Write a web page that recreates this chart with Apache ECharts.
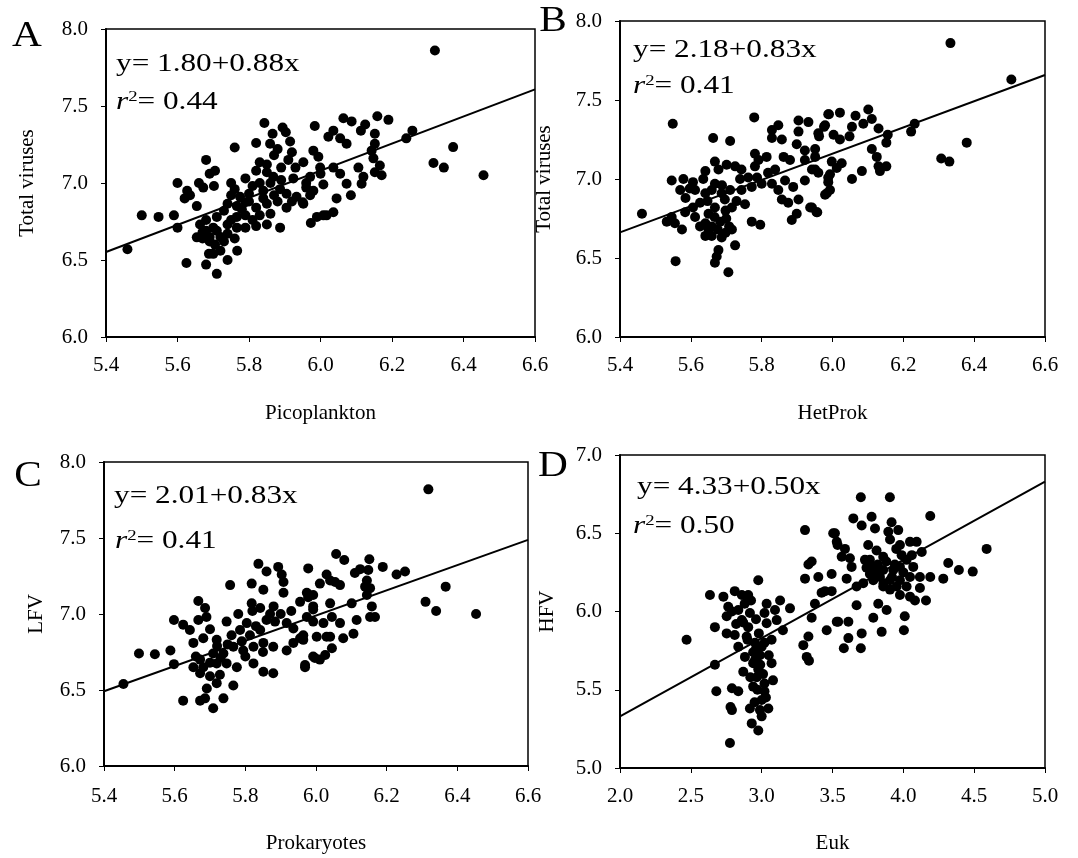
<!DOCTYPE html>
<html>
<head>
<meta charset="utf-8">
<script src="https://cdn.jsdelivr.net/npm/echarts@6/dist/echarts.min.js"></script>
<style>
  html, body { margin: 0; padding: 0; background: #fff; }
  #chart { width: 1078px; height: 858px; }
</style>
</head>
<body>
<div id="chart"></div>
<script>
// Panel captions, axis titles and regression summaries
const panelLetters = ['A', 'B', 'C', 'D'];
const xNames = ['Picoplankton', 'HetProk', 'Prokaryotes', 'Euk'];
const yNames = ['Total viruses', 'Total viruses', 'LFV', 'HFV'];
const intercepts = [1.80, 2.18, 2.01, 4.33];
const slopes = [0.88, 0.83, 0.83, 0.50];
const rSquared = ['0.44', '0.41', '0.41', '0.50'];

// Axis extents: [min, max, interval]
const xRanges = [[5.4, 6.6, 0.2], [5.4, 6.6, 0.2], [5.4, 6.6, 0.2], [2.0, 5.0, 0.5]];
const yRanges = [[6.0, 8.0, 0.5], [6.0, 8.0, 0.5], [6.0, 8.0, 0.5], [5.0, 7.0, 0.5]];

// A: Picoplankton vs total viruses (log abundances)
const pointsA = [
  [5.46,6.57],[5.50,6.79],[5.547,6.78],[5.59,6.79],[5.60,6.71],[5.60,7.00],[5.627,6.95],[5.635,6.92],
  [5.654,6.85],[5.625,6.48],[5.68,6.47],[5.688,6.54],[5.71,6.41],[5.74,6.50],[5.767,6.56],[5.68,7.15],
  [5.705,7.08],[5.69,7.06],[5.66,7.00],[5.672,6.97],[5.702,6.98],[5.75,7.00],[5.76,7.23],[5.843,7.39],
  [5.866,7.32],[5.82,7.26],[5.859,7.255],[5.894,7.36],[5.903,7.33],[5.915,7.27],[5.91,7.15],[5.83,7.135],
  [5.82,7.08],[5.85,7.07],[5.868,7.04],[5.89,7.02],[5.924,7.03],[5.79,7.03],[5.81,6.98],[5.75,6.92],
  [5.775,6.91],[5.80,6.93],[5.84,6.95],[5.887,6.96],[5.905,6.93],[5.96,7.00],[5.98,6.95],[5.74,6.865],
  [5.766,6.85],[5.79,6.875],[5.82,6.84],[5.85,6.865],[5.905,6.84],[5.95,6.875],[5.663,6.73],[5.68,6.69],
  [5.654,6.647],[5.67,6.64],[5.70,6.71],[5.71,6.78],[5.74,6.73],[5.766,6.71],[5.79,6.71],[5.82,6.72],
  [5.85,6.73],[5.887,6.71],[5.766,6.78],[5.79,6.79],[5.705,6.60],[5.72,6.56],[5.70,6.54],[5.69,6.65],
  [5.72,6.65],[5.74,6.67],[6.017,6.79],[6.0,7.06],[5.933,6.91],
  [5.67,6.68],[5.69,6.62],[5.73,6.62],[5.76,6.64],[5.68,6.76],[5.73,6.82],[5.78,6.83],[5.83,6.79],
  [5.86,6.80],[5.88,6.88],[5.92,6.88],[5.84,6.90],[5.80,6.88],[5.76,6.96],[5.86,7.00],[5.89,7.10],
  [5.87,7.18],[5.92,7.20],[5.88,7.22],[5.85,7.12],[5.62,6.90],[5.71,6.69],[5.75,6.76],[5.81,6.76],
  [5.87,6.92],[5.83,7.00],[5.93,7.10],
  [6.32,7.86],[6.371,7.233],[6.316,7.13],[6.345,7.10],[6.456,7.05],[6.257,7.34],[6.24,7.29],[6.159,7.433],
  [6.19,7.41],[6.125,7.38],[6.113,7.34],[6.152,7.32],[6.152,7.255],[6.143,7.21],[6.148,7.16],[6.166,7.114],
  [6.171,7.05],[6.152,7.07],[6.12,7.04],[6.115,6.995],[6.106,7.10],[6.064,7.42],[6.087,7.40],[5.984,7.37],
  [6.036,7.34],[6.022,7.30],[6.055,7.29],[6.073,7.255],[5.98,7.21],[5.994,7.17],[5.952,7.135],[5.999,7.10],
  [6.036,7.10],[6.055,7.06],[6.073,6.995],[6.008,6.99],[5.971,7.04],[5.96,6.97],[5.971,6.92],[5.952,6.865],
  [6.045,6.90],[6.085,6.92],[6.036,6.81],[6.008,6.79],[5.99,6.78],[5.973,6.74]
];

// B: heterotrophic prokaryotes vs total viruses
const pointsB = [
  [5.462,6.78],[5.549,7.35],[5.557,6.48],[5.546,6.99],[5.579,7.00],[5.570,6.93],[5.597,6.94],[5.612,6.93],
  [5.546,6.76],[5.532,6.73],[5.555,6.72],[5.575,6.68],[5.584,6.79],[5.612,6.76],[5.626,6.85],[5.641,6.91],
  [5.635,7.00],[5.641,7.05],[5.663,7.26],[5.711,7.24],[5.779,7.39],[5.668,7.11],[5.678,7.06],[5.701,7.09],
  [5.725,7.08],[5.743,7.06],[5.668,6.97],[5.659,6.93],[5.687,6.91],[5.711,6.93],[5.696,6.87],[5.716,6.82],
  [5.668,6.82],[5.650,6.78],[5.641,6.72],[5.659,6.70],[5.683,6.73],[5.641,6.64],[5.659,6.64],[5.687,6.63],
  [5.716,6.68],[5.725,6.58],[5.678,6.55],[5.673,6.51],[5.668,6.47],[5.706,6.41],[5.753,6.84],[5.772,6.73],
  [5.796,6.71],[5.743,6.93],[5.772,6.95],[5.787,7.01],[5.800,6.97],[5.762,7.01],[5.781,7.16],[5.791,7.12],
  [5.814,7.14],[5.781,7.08],[5.818,7.04],[5.838,7.06],[5.829,6.97],[5.847,6.93],[5.857,6.87],[5.875,6.85],
  [5.866,6.99],[5.889,6.95],[5.904,6.87],[5.899,6.78],[5.885,6.74],[5.937,6.82],[5.955,6.79],[5.979,6.90],
  [5.904,7.37],[5.932,7.36],[5.988,7.41],[5.829,7.31],[5.847,7.34],[5.829,7.26],[5.857,7.25],[5.904,7.30],
  [5.960,7.29],[5.979,7.34],[5.899,7.22],[5.922,7.18],[5.951,7.14],[5.922,7.12],[5.942,7.06],[5.880,7.12],
  [5.862,7.14],[5.988,7.01],[5.998,7.11],[5.922,6.99],[5.960,7.04],
  [5.606,6.82],[5.626,6.70],[5.647,6.86],[5.667,6.76],[5.698,6.80],[5.708,6.70],[5.729,6.86],[5.688,6.96],
  [5.739,7.00],[5.606,6.98],[5.585,6.88],[5.698,6.66],[5.650,6.68],[5.676,6.68],[5.700,6.75],
  [6.333,7.86],[6.505,7.63],[6.379,7.23],[6.307,7.13],[6.330,7.11],[6.232,7.35],[6.222,7.30],[6.156,7.28],
  [6.152,7.23],[6.130,7.32],[6.101,7.44],[6.111,7.38],[6.087,7.35],[6.065,7.40],[6.021,7.42],[5.990,7.41],
  [5.976,7.33],[6.055,7.33],[6.048,7.27],[6.003,7.28],[6.021,7.25],[5.962,7.27],[5.951,7.19],[6.111,7.19],
  [6.125,7.14],[6.130,7.08],[6.152,7.08],[6.134,7.05],[6.026,7.10],[6.012,7.07],[5.993,7.03],[5.988,6.98],
  [5.951,7.06],[6.083,7.05],[6.055,7.00],[5.984,6.91],[5.993,6.93],[5.942,6.82],[5.957,6.79]
];

// C: prokaryotes vs low-fluorescence viruses
const pointsC = [
  [5.455,6.54],[5.499,6.74],[5.544,6.735],[5.588,6.76],[5.598,6.67],[5.598,6.96],[5.624,6.93],[5.643,6.895],
  [5.667,6.96],[5.667,7.085],[5.686,7.04],[5.69,6.98],[5.653,6.81],[5.681,6.84],[5.719,6.83],[5.747,6.95],
  [5.757,7.19],[5.818,7.20],[5.837,7.33],[5.86,7.28],[5.851,7.16],[5.893,7.31],[5.903,7.26],[5.908,7.21],
  [5.978,7.30],[6.011,7.20],[6.03,7.26],[5.908,7.14],[5.955,7.08],[5.978,7.11],[5.992,7.05],[5.818,7.07],
  [5.842,7.04],[5.87,7.00],[5.884,6.95],[5.804,6.94],[5.785,6.895],[5.761,6.86],[5.813,6.86],[5.842,6.895],
  [5.917,6.94],[5.936,6.905],[5.955,6.84],[5.964,6.86],[6.002,6.85],[6.03,6.85],[5.992,6.72],[5.969,6.65],
  [6.011,6.70],[5.936,6.81],[5.917,6.76],[5.879,6.785],[5.851,6.81],[5.823,6.785],[5.794,6.76],[5.766,6.785],
  [5.738,6.74],[5.709,6.74],[5.672,6.70],[5.653,6.65],[5.681,6.65],[5.719,6.675],[5.747,6.675],[5.776,6.65],
  [5.823,6.675],[5.851,6.62],[5.879,6.61],[5.672,6.61],[5.70,6.59],[5.728,6.60],[5.719,6.545],[5.691,6.51],
  [5.766,6.53],[5.624,6.43],[5.672,6.43],[5.709,6.38],[5.738,6.445],[5.686,6.445],
  [5.66,6.72],[5.70,6.68],[5.73,6.71],[5.75,6.80],[5.79,6.82],[5.83,6.92],[5.86,6.96],[5.88,7.05],
  [5.90,7.00],[5.93,7.02],[5.85,6.75],[5.80,6.72],[5.78,7.00],[5.82,7.02],[5.70,6.90],[5.72,6.79],
  [6.318,7.82],[6.367,7.18],[6.31,7.08],[6.34,7.02],[6.453,7.00],[6.252,7.28],[6.228,7.26],[6.189,7.31],
  [6.151,7.36],[6.057,7.395],[6.08,7.355],[6.125,7.295],[6.11,7.27],[6.148,7.29],[6.144,7.22],[6.139,7.18],
  [6.153,7.17],[6.144,7.125],[6.054,7.21],[6.068,7.19],[6.04,7.22],[5.974,7.14],[5.992,7.125],[6.04,7.07],
  [6.101,7.07],[6.158,7.05],[6.153,6.98],[6.167,6.98],[6.115,6.96],[6.068,6.94],[6.045,6.98],[5.992,7.03],
  [5.974,6.98],[5.992,6.95],[6.021,6.94],[6.106,6.87],[6.077,6.84],[6.04,6.85],[5.964,6.83],[6.045,6.775],
  [6.026,6.73],[5.997,6.71],[5.969,6.665]
];

// D: eukaryotes vs high-fluorescence viruses
const pointsD = [
  [2.47,5.82],[2.67,5.66],[2.68,5.49],[2.635,6.105],[2.73,6.095],[2.67,5.90],[2.776,5.16],[2.79,5.51],
  [2.835,5.49],[2.78,5.39],[2.79,5.37],[2.81,6.13],[2.86,6.105],[2.905,6.105],[2.925,6.07],[2.976,6.20],
  [2.764,6.03],[2.79,6.00],[2.753,5.97],[2.835,6.01],[2.86,5.945],[2.753,5.86],[2.81,5.85],[2.905,5.90],
  [2.917,5.99],[2.894,5.84],[2.835,5.775],[2.882,5.71],[2.94,5.74],[2.988,5.72],[3.02,5.80],[3.07,5.82],
  [3.035,5.925],[3.02,5.99],[3.035,6.05],[3.094,6.01],[3.106,5.945],[3.13,6.07],[3.20,6.02],[3.15,5.88],
  [2.87,5.615],[2.94,5.67],[2.976,5.63],[3.07,5.67],[3.08,5.56],[3.02,5.54],[2.94,5.52],[2.965,5.58],
  [3.02,5.49],[3.00,5.435],[3.047,5.38],[2.988,5.37],[2.917,5.38],[2.93,5.285],[2.976,5.24],[3.00,5.33],
  [2.953,5.69],[3.00,5.775],[2.953,5.80],
  [2.96,5.76],[2.99,5.66],[3.01,5.60],[2.97,5.50],[3.03,5.45],[2.95,5.42],[2.92,5.58],[3.05,5.72],
  [2.90,5.82],[2.98,5.86],[2.87,5.93],[2.88,6.05],[2.82,5.92],[2.96,5.95],
  [3.306,6.52],[3.353,6.32],[3.33,6.30],[3.306,6.21],[3.40,6.22],[3.494,6.24],[3.517,6.50],[3.536,6.425],
  [3.423,6.12],[3.447,6.13],[3.376,6.05],[3.353,5.96],[3.459,5.88],[3.53,5.935],[3.33,5.84],[3.294,5.785],
  [3.318,5.71],[3.334,5.685],
  [3.70,6.73],[3.905,6.73],[4.19,6.61],[4.588,6.40],[4.49,6.255],[4.392,6.265],[4.317,6.31],[4.282,6.21],
  [4.19,6.22],[4.117,6.22],[4.117,6.15],[4.16,6.07],[4.082,6.07],[4.01,5.97],[4.004,5.88],[3.847,5.87],
  [3.788,5.96],[3.706,5.86],[3.70,5.765],[3.612,5.83],[3.58,5.765],[3.54,5.935],[3.612,5.935],[3.67,6.04],
  [3.823,6.05],[3.882,6.01],[3.647,6.595],[3.706,6.55],[3.776,6.605],[3.80,6.53],[3.917,6.57],[3.894,6.51],
  [3.964,6.52],[3.906,6.46],[3.505,6.50],[3.53,6.445],[3.588,6.40],[3.565,6.35],[3.623,6.34],[3.635,6.285],
  [3.60,6.21],[3.494,6.13],[3.67,6.16],[3.729,6.33],[3.752,6.425],[3.811,6.39],[3.858,6.35],[3.976,6.425],
  [4.047,6.445],[4.094,6.445],[4.13,6.38],[3.988,6.36],[4.023,6.33],[4.07,6.285],[3.976,6.285],[3.929,6.265],
  [3.858,6.265],[3.788,6.285],[3.764,6.24],[3.835,6.22],[3.906,6.20],[3.976,6.20],[4.047,6.22],[3.788,6.20],
  [3.717,6.18],[3.953,6.16],[4.023,6.16],[3.906,6.14],[3.976,6.105],[4.047,6.095],[3.858,6.16],[3.764,6.33],
  [3.82,6.30],[3.88,6.32],[3.94,6.30],[4.00,6.25],[3.92,6.22],[3.86,6.18],[3.80,6.26],[3.95,6.40],
  [4.06,6.36],[3.74,6.28]
];

const allPoints = [pointsA, pointsB, pointsC, pointsD];

// ---- layout (pixel boxes of the four panels) ----
const grids = [
  { left: 106, top: 29,  width: 429, height: 308 },
  { left: 620, top: 21,  width: 425, height: 316 },
  { left: 104, top: 462, width: 424, height: 304 },
  { left: 620, top: 455, width: 425, height: 313 }
];
const yNameGaps = [68, 65, 57, 62];
const xNameGaps = [66, 66, 67, 65];
const xLabelMargins = [18, 18, 20, 18];
const letterPos = [[27, 37], [553, 22], [28, 477], [553, 467]];
const eqPos = [[116, 64], [633, 50], [114, 496], [637, 487]];
const r2Pos = [[116, 102], [633, 86], [115, 541], [633, 526]];

const serif = '"Liberation Serif", "Times New Roman", serif';
const textStretch = 1.25;

const option = {
  animation: false,
  backgroundColor: '#fff',
  grid: grids.map(g => Object.assign({}, g, {
    show: true, borderColor: '#000', borderWidth: 1.5, backgroundColor: 'transparent', containLabel: false
  })),
  xAxis: grids.map((g, i) => ({
    type: 'value', gridIndex: i,
    min: xRanges[i][0], max: xRanges[i][1], interval: xRanges[i][2],
    name: xNames[i], nameLocation: 'middle', nameGap: xNameGaps[i],
    nameTextStyle: { fontFamily: serif, fontSize: 21, color: '#000' },
    axisLine: { show: true, onZero: false, lineStyle: { color: '#000', width: 2 } },
    axisTick: { show: true, length: 5, lineStyle: { color: '#000', width: 1 } },
    axisLabel: { fontFamily: serif, fontSize: 21, color: '#000', margin: xLabelMargins[i],
      formatter: v => v.toFixed(1) },
    splitLine: { show: false }
  })),
  yAxis: grids.map((g, i) => ({
    type: 'value', gridIndex: i,
    min: yRanges[i][0], max: yRanges[i][1], interval: yRanges[i][2],
    name: yNames[i], nameLocation: 'middle', nameGap: yNameGaps[i], nameRotate: 90,
    nameTextStyle: { fontFamily: serif, fontSize: 21, color: '#000' },
    axisLine: { show: true, onZero: false, lineStyle: { color: '#000', width: 2 } },
    axisTick: { show: true, length: 5, lineStyle: { color: '#000', width: 1 } },
    axisLabel: { fontFamily: serif, fontSize: 21, color: '#000', margin: 18,
      formatter: v => v.toFixed(1) },
    splitLine: { show: false }
  })),
  series: [],
  graphic: []
};

allPoints.forEach((pts, i) => {
  option.series.push({
    type: 'scatter', xAxisIndex: i, yAxisIndex: i,
    data: pts, symbol: 'circle', symbolSize: 10,
    itemStyle: { color: '#000', opacity: 1 }, z: 3
  });
  const x0 = xRanges[i][0], x1 = xRanges[i][1];
  option.series.push({
    type: 'line', xAxisIndex: i, yAxisIndex: i,
    data: [[x0, intercepts[i] + slopes[i] * x0], [x1, intercepts[i] + slopes[i] * x1]],
    showSymbol: false, symbol: 'none',
    lineStyle: { color: '#000', width: 2 }, z: 4
  });

  option.graphic.push({
    type: 'text', x: letterPos[i][0], y: letterPos[i][1], scaleX: 1.18,
    style: { text: panelLetters[i], fill: '#000', fontFamily: serif, fontSize: 35,
      align: 'center', verticalAlign: 'middle' }
  });
  option.graphic.push({
    type: 'text', x: eqPos[i][0], y: eqPos[i][1], scaleX: textStretch,
    style: {
      text: 'y= ' + intercepts[i].toFixed(2) + '+' + slopes[i].toFixed(2) + 'x',
      fill: '#000', fontFamily: serif, fontSize: 25, align: 'left', verticalAlign: 'middle'
    }
  });
  option.graphic.push({
    type: 'text', x: r2Pos[i][0], y: r2Pos[i][1], scaleX: textStretch,
    style: {
      text: '{it|r}{sup|2}= ' + rSquared[i],
      fill: '#000', fontFamily: serif, fontSize: 25, align: 'left', verticalAlign: 'middle',
      rich: {
        it: { fontFamily: serif, fontSize: 25, fontStyle: 'italic', fill: '#000' },
        sup: { fontFamily: serif, fontSize: 15, verticalAlign: 'top', fill: '#000' }
      }
    }
  });
});

const chart = echarts.init(document.getElementById('chart'), null, { renderer: 'canvas' });
chart.setOption(option);
</script>
</body>
</html>
